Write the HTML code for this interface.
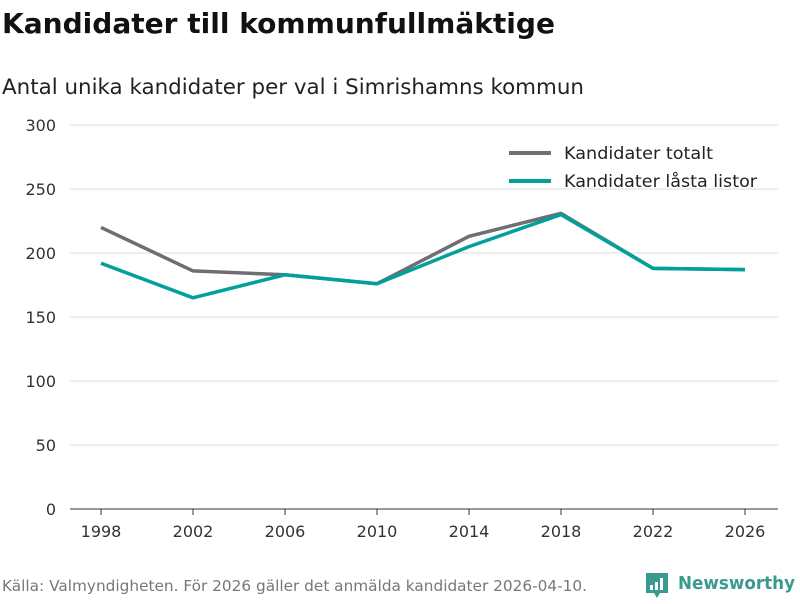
<!DOCTYPE html>
<html><head><meta charset="utf-8">
<style>
body{margin:0;width:800px;height:600px;background:#fff;font-family:"DejaVu Sans","Liberation Sans",sans-serif;overflow:hidden}
</style></head>
<body>
<svg width="800" height="600">
<text x="2" y="33" font-size="28" font-weight="bold" fill="#111" textLength="553" lengthAdjust="spacingAndGlyphs">Kandidater till kommunfullmäktige</text>
<text x="2" y="94" font-size="21" fill="#222" textLength="582" lengthAdjust="spacingAndGlyphs">Antal unika kandidater per val i Simrishamns kommun</text>
<g id="grid"></g><g id="lines"></g>
<g>
<line x1="509" y1="153" x2="551" y2="153" stroke="#6e6e73" stroke-width="4"/>
<text x="564" y="159" font-size="17" fill="#222" textLength="149" lengthAdjust="spacingAndGlyphs">Kandidater totalt</text>
<line x1="509" y1="181" x2="551" y2="181" stroke="#00a19a" stroke-width="4"/>
<text x="564" y="187" font-size="17" fill="#222" textLength="193" lengthAdjust="spacingAndGlyphs">Kandidater låsta listor</text>
</g>
<text x="2" y="591" font-size="15" fill="#777" textLength="585" lengthAdjust="spacingAndGlyphs">Källa: Valmyndigheten. För 2026 gäller det anmälda kandidater 2026-04-10.</text>
<g>
<path d="M646 573h22v20h-8l-3 5-3-5h-8z" fill="#3a9a8e"/>
<rect x="650" y="585" width="3" height="5" fill="#fff"/><rect x="655" y="582" width="3" height="8" fill="#fff"/><rect x="660" y="578" width="3" height="12" fill="#fff"/>
<text x="678" y="589" font-size="18" font-weight="bold" fill="#3a9a8e" textLength="117" lengthAdjust="spacingAndGlyphs">Newsworthy</text>
</g>
</svg>
<script>
const years=[1998,2002,2006,2010,2014,2018,2022,2026];
const totalt=[220,186,183,176,213,231,188,187];
const lasta=[192,165,183,176,205,230,188,187];
const yTicks=[0,50,100,150,200,250,300];
const NS="http://www.w3.org/2000/svg";
const x=y=>101+(y-1998)/4*92;
const yv=v=>509-v*1.28;
function mk(t,a,p){const e=document.createElementNS(NS,t);for(const k in a)e.setAttribute(k,a[k]);p.appendChild(e);return e;}
const g=document.getElementById('grid');
yTicks.forEach(t=>{
 const l=mk('line',{x1:70,x2:778,y1:yv(t),y2:yv(t),stroke:t?'#ddd':'#333','stroke-width':1},g);
 
 
 const tx=mk('text',{x:56,y:yv(t)+6,'font-size':16,fill:'#333','text-anchor':'end'},g);tx.textContent=t;
 
 
});
years.forEach(yr=>{
 mk('line',{x1:x(yr),x2:x(yr),y1:509,y2:515,stroke:'#333'},g);
 const tx=mk('text',{x:x(yr),y:537,'font-size':16,fill:'#333','text-anchor':'middle'},g);tx.textContent=yr;
 
 
});
const L=document.getElementById('lines');
[[totalt,'#6e6e73','line-totalt'],[lasta,'#00a19a','line-lasta']].forEach(([d,c,n])=>{
 const p=mk('polyline',{points:d.map((v,i)=>x(years[i])+','+yv(v)).join(' '),fill:'none',stroke:c,'stroke-width':3.5,'stroke-linejoin':'round'},L);
 
 
});
</script>
</body></html>
